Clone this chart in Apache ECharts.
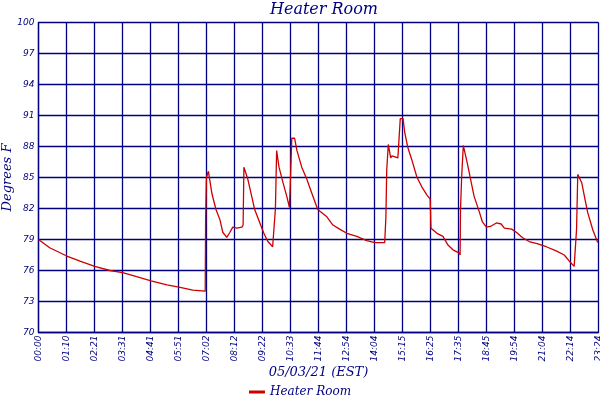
<!DOCTYPE html>
<html>
<head>
<meta charset="utf-8">
<title>Heater Room</title>
<script src="https://cdn.jsdelivr.net/npm/echarts@6/dist/echarts.min.js"></script>
<style>
  html, body { margin: 0; padding: 0; background: #fff; }
  #chart { width: 600px; height: 400px; }
</style>
</head>
<body>
<div id="chart"></div>
<script>
// time axis tick labels (one every ~70.2 min)
var timeLabels = ['00:00', '01:10', '02:21', '03:31', '04:41', '05:51', '07:02',
  '08:12', '09:22', '10:33', '11:44', '12:54', '14:04', '15:15', '16:25',
  '17:35', '18:45', '19:54', '21:04', '22:14', '23:24'];

// minutes since midnight
var minutes = [0, 28, 71, 104, 141, 179, 211, 246, 282, 322, 352, 387, 418,
  419, 421, 426, 429, 435, 445, 455, 462, 472, 480, 487, 497, 510, 513,
  515, 520, 525, 535, 542, 555, 565, 575, 587, 591, 594, 597, 603, 613,
  623, 629, 631, 635, 642, 648, 660, 673, 685, 700, 723, 738, 755, 773,
  798, 823, 843, 868, 871, 873, 877, 880, 883, 886, 894, 901, 905, 907,
  914, 918, 926, 936, 949, 961, 974, 982, 984, 999, 1014, 1026, 1039,
  1054, 1057, 1058, 1061, 1065, 1070, 1075, 1085, 1092, 1105, 1113, 1123,
  1135, 1148, 1160, 1168, 1186, 1198, 1213, 1230, 1250, 1273, 1298, 1318,
  1331, 1343, 1347, 1349, 1352, 1354, 1362, 1370, 1377, 1390, 1402];

// degrees F
var temps = [79.0, 78.2, 77.4, 76.9, 76.4, 76.0, 75.8, 75.4, 75.0, 74.6, 74.4, 74.1, 74.0,
  81.0, 85.0, 85.6, 85.5, 83.4, 81.9, 80.9, 79.7, 79.2, 79.7, 80.2, 80.1, 80.2, 80.4,
  86.0, 86.0, 84.8, 83.1, 81.9, 80.6, 79.6, 78.8, 78.3, 78.3, 82.0, 87.6, 86.0, 84.5,
  83.1, 82.1, 84.0, 88.8, 88.8, 87.6, 86.0, 84.8, 83.5, 81.9, 81.2, 80.4, 80.0, 79.6,
  79.3, 78.9, 78.7, 78.7, 81.2, 85.7, 88.2, 88.2, 86.9, 87.1, 87.0, 86.9, 87.0, 90.7,
  90.7, 89.4, 87.9, 86.7, 85.0, 84.1, 83.3, 82.9, 80.1, 79.6, 79.3, 78.5, 78.0,
  77.7, 77.5, 81.9, 85.1, 88.1, 88.1, 86.4, 84.5, 83.2, 81.7, 80.7, 80.2,
  80.3, 80.6, 80.5, 80.1, 80.0, 79.7, 79.2, 78.8, 78.6, 78.3, 77.9, 77.5,
  76.9, 76.4, 76.4, 80.0, 85.3, 85.2, 84.5, 82.9, 81.6, 79.9, 78.7];

var navy = '#000080';
var points = minutes.map(function (m, i) { return [m, temps[i]]; });

var chart = echarts.init(document.getElementById('chart'), null, { renderer: 'canvas' });
chart.setOption({
  animation: false,
  backgroundColor: '#fff',
  title: {
    text: 'Heater Room',
    left: 319,
    top: -3,
    textAlign: 'center',
    textStyle: {
      fontFamily: 'DejaVu Serif',
      fontStyle: 'italic',
      fontWeight: 'normal',
      fontSize: 16,
      color: navy
    }
  },
  legend: {
    bottom: -3,
    left: 'center',
    icon: 'rect',
    itemWidth: 16,
    itemHeight: 3,
    textStyle: {
      fontFamily: 'DejaVu Serif',
      fontStyle: 'italic',
      fontSize: 12,
      color: navy
    },
    data: ['Heater Room']
  },
  grid: { left: 38.5, right: 1.5, top: 22.5, bottom: 67.5, containLabel: false, outerBoundsMode: 'none' },
  xAxis: {
    type: 'value',
    min: 0,
    max: 1404,
    interval: 70.2,
    name: '05/03/21 (EST)',
    nameLocation: 'middle',
    nameGap: 34,
    nameMoveOverlap: false,
    nameTextStyle: {
      fontFamily: 'DejaVu Serif',
      fontStyle: 'italic',
      fontSize: 13,
      color: navy
    },
    axisLine: { show: true, lineStyle: { color: navy, width: 1.3 } },
    axisTick: { show: false },
    axisLabel: {
      rotate: 90,
      margin: 3,
      fontFamily: 'DejaVu Sans',
      fontStyle: 'italic',
      fontSize: 9,
      color: navy,
      showMaxLabel: true,
      formatter: function (v) { return timeLabels[Math.round(v / 70.2)] || ''; }
    },
    splitLine: { show: true, lineStyle: { color: navy, width: 1.3 } }
  },
  yAxis: {
    type: 'value',
    min: 70,
    max: 100,
    interval: 3,
    name: 'Degrees F',
    nameLocation: 'middle',
    nameGap: 24,
    nameMoveOverlap: false,
    nameTextStyle: {
      fontFamily: 'DejaVu Serif',
      fontStyle: 'italic',
      fontSize: 13,
      color: navy
    },
    axisLine: { show: true, lineStyle: { color: navy, width: 1.3 } },
    axisTick: { show: false },
    axisLabel: {
      margin: 4,
      fontFamily: 'DejaVu Sans',
      fontStyle: 'italic',
      fontSize: 9,
      color: navy
    },
    splitLine: { show: true, lineStyle: { color: navy, width: 1.3 } }
  },
  series: [{
    name: 'Heater Room',
    type: 'line',
    data: points,
    symbol: 'none',
    color: '#cc0000',
    lineStyle: { color: '#cc0000', width: 1.3 },
    z: 3
  }]
});
</script>
</body>
</html>
